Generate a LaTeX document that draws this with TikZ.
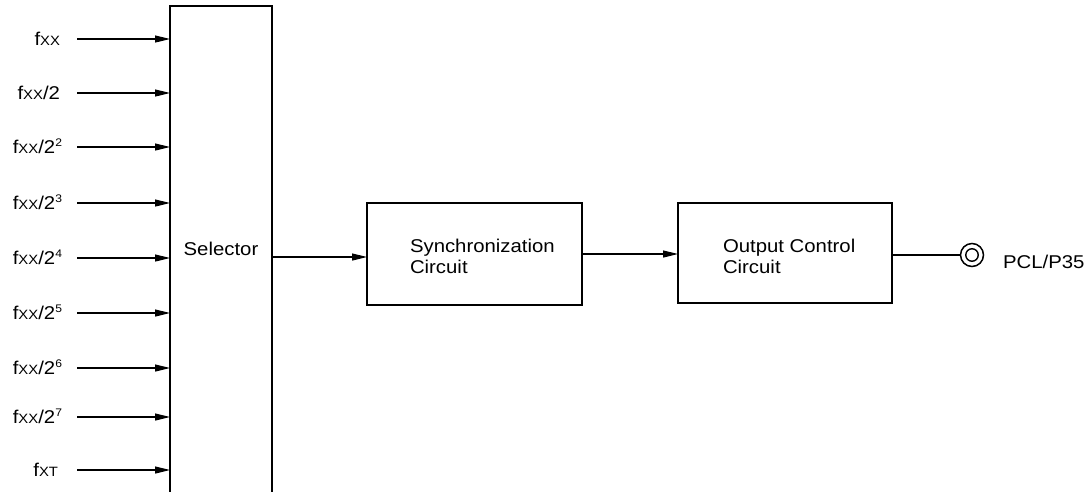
\documentclass[tikz,border=0pt]{standalone}
\usepackage{fontspec}
\setmainfont{Liberation Sans}[FakeStretch=1.1]
\usetikzlibrary{arrows.meta}
\newcommand{\subcaps}[1]{{\fontsize{13.5}{13.5}\selectfont #1}}
\newcommand{\supnum}[1]{\raisebox{6.5pt}{\fontsize{11}{11}\selectfont #1}}
\begin{document}
\begin{tikzpicture}[x=1pt,y=-1pt,
  every node/.style={font=\fontsize{18.5}{20.5}\selectfont, inner sep=0pt, outer sep=0pt},
  wire/.style={line width=1.2pt},
  sig/.style={wire, -{Triangle[length=15pt,width=7pt]}},
  block/.style={draw, line width=1.5pt, rectangle},
  inlabel/.style={anchor=base east}]
\useasboundingbox (0,0) rectangle (1092,491);

% selector: open at the lower edge
\node[minimum width=102pt, minimum height=486pt, anchor=north west] (sel) at (170,6) {};
\draw[line width=1.5pt] (sel.south west) -- (sel.north west) -- (sel.north east) -- (sel.south east);
\node[anchor=base] (sellab) at (221,255) {Selector};

% clock inputs
\foreach \y/\xe/\txt [count=\i] in {
    39/60/{f\subcaps{XX}},
    93/60/{f\subcaps{XX}/2},
    147/62/{f\subcaps{XX}/2\supnum{2}},
    203/62/{f\subcaps{XX}/2\supnum{3}},
    258/62/{f\subcaps{XX}/2\supnum{4}},
    313/62/{f\subcaps{XX}/2\supnum{5}},
    368/62/{f\subcaps{XX}/2\supnum{6}},
    417/62/{f\subcaps{XX}/2\supnum{7}},
    470/58/{f\subcaps{XT}}} {
  \node[inlabel] (in\i) at (\xe,\y+6) {\txt};
  \coordinate (s\i) at (77,\y);
  \draw[sig] (s\i) -- (s\i -| sel.west);
}

% processing blocks
\node[block, minimum width=215pt, minimum height=102pt, anchor=north west] (sync) at (367,203) {};
\node[anchor=base west] (synclab) at (410,252.7) {Synchronization};
\node[anchor=base west] (synclab2) at (410,273) {Circuit};

\node[block, minimum width=214pt, minimum height=100pt, anchor=north west] (outc) at (678,203) {};
\node[anchor=base west] (outlab) at (723,252.7) {Output Control};
\node[anchor=base west] (outlab2) at (723,273) {Circuit};

% output pin
\node[circle, draw, line width=1.5pt, minimum size=23pt] (pin) at (972,255) {};
\node[circle, draw, line width=1.4pt, minimum size=12.5pt] (pinin) at (pin.center) {};
\node[anchor=base west] (pinlab) at (1003,268) {PCL/P35};

% connections
\coordinate (selout) at (sel.east |- 0,257);
\draw[sig] (selout) -- (selout -| sync.west);
\coordinate (syncout) at (sync.east |- 0,254);
\draw[sig] (syncout) -- (syncout -| outc.west);
\draw[wire] (outc.east |- pin.west) -- (pin.west);
\end{tikzpicture}
\end{document}
